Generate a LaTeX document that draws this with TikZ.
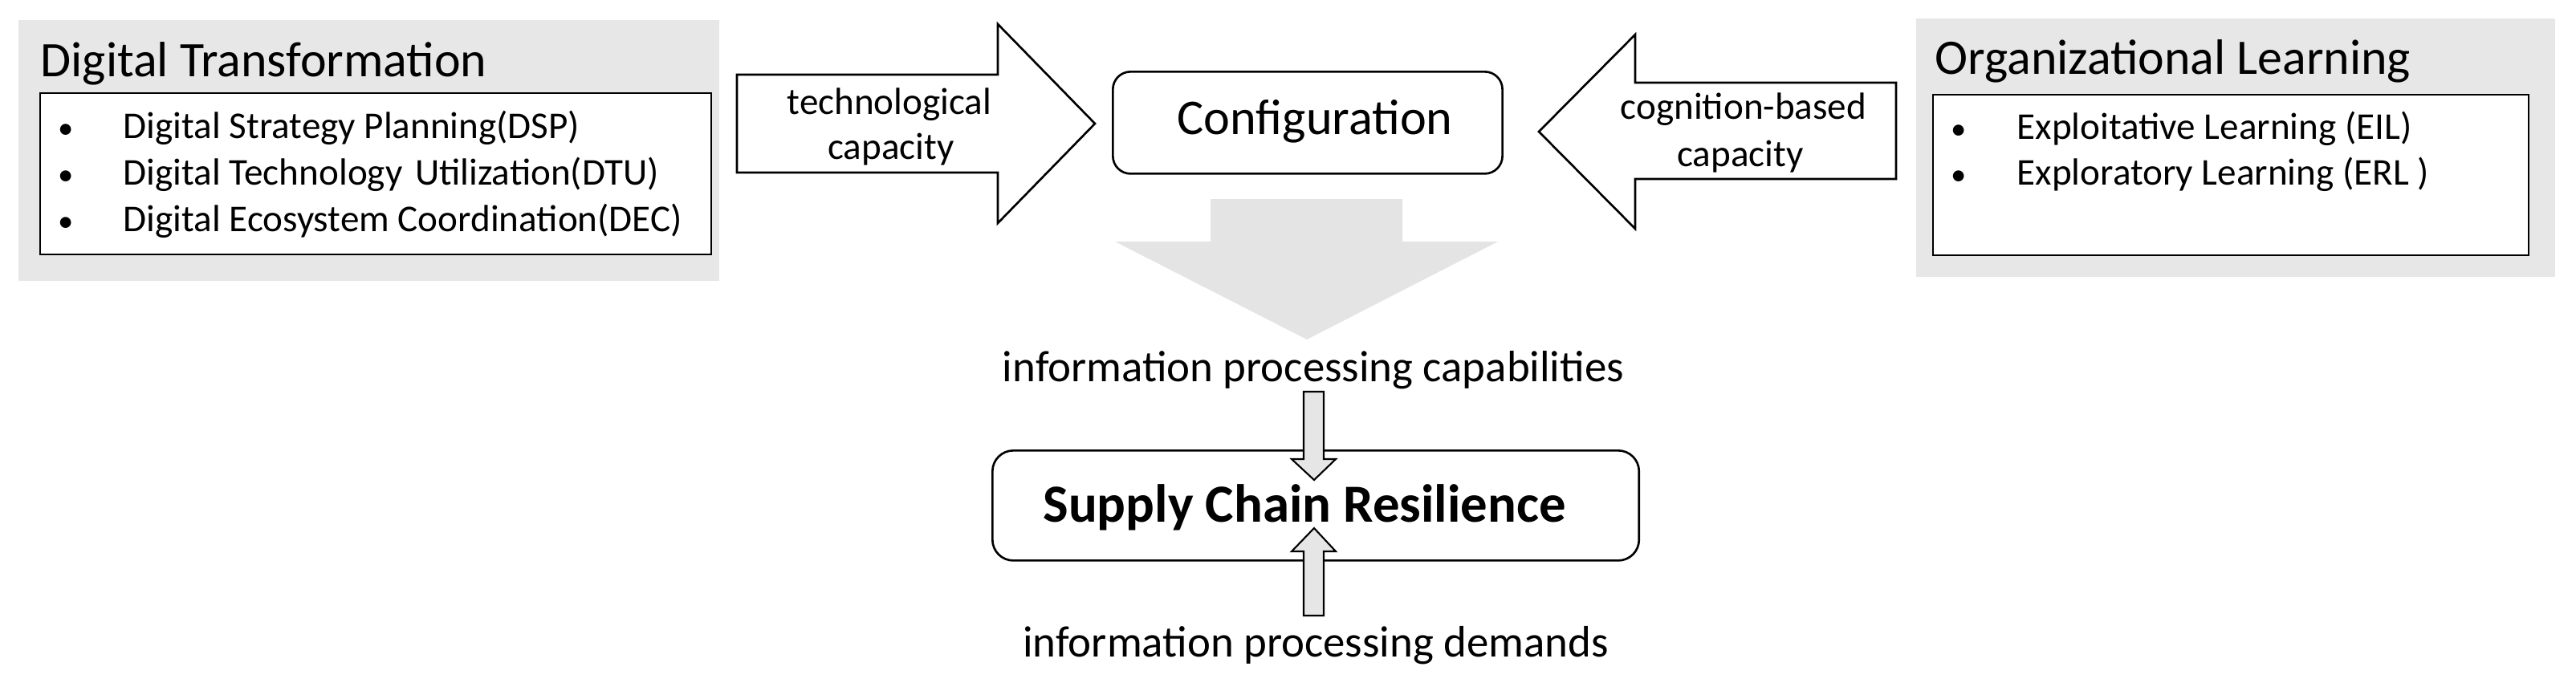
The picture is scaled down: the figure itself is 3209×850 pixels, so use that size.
\documentclass[tikz,border=0pt]{standalone}
\usepackage{fontspec}
\setmainfont{Carlito}
\definecolor{panelgray}{HTML}{E7E7E7}
\definecolor{arrowgray}{HTML}{E4E4E4}
\definecolor{smallgray}{HTML}{E6E6E6}
\tikzset{
  panel/.style={fill=panelgray, draw=none},
  listbox/.style={draw=black, fill=white, line width=0.75pt},
  blockarrow/.style={draw=black, fill=white, line width=0.75pt, line join=miter},
  bigarrow/.style={fill=arrowgray, draw=none},
  smallarrow/.style={draw=black, fill=smallgray, line width=0.6pt, line join=miter},
  roundbox/.style={draw=black, fill=white, line width=0.75pt, rounded corners=0.22cm},
  titletext/.style={font=\fontsize{17.6}{21}\selectfont, anchor=base west, inner sep=0pt},
  itemtext/.style={font=\fontsize{13.4}{16}\selectfont, anchor=base west, inner sep=0pt},
  bullettext/.style={font=\fontsize{11}{14}\selectfont, anchor=base, inner sep=0pt},
  arrowtext/.style={font=\fontsize{13.4}{16}\selectfont, anchor=base, inner sep=0pt},
  infotext/.style={font=\fontsize{15.6}{18}\selectfont, anchor=base, inner sep=0pt},
}
\begin{document}
\begin{tikzpicture}[x=0.01cm, y=-0.01cm]
\useasboundingbox (0,0) rectangle (3209,850);

% left panel
\path[panel] (23,25) rectangle (896,350);
\node[titletext] (dttitle) at (50,95) {Digital Transformation};
\path[listbox] (50,116) rectangle (886,317);
\node[bullettext] (dtb1) at (82,172) {•};
\node[bullettext] (dtb2) at (82,230) {•};
\node[bullettext] (dtb3) at (82,288) {•};
\node[itemtext] (dsp) at (153,172) {Digital Strategy Planning(DSP)};
\node[itemtext] (dtu) at (153,230) {Digital Technology\,\,Utilization(DTU)};
\node[itemtext] (dec) at (153,288) {Digital Ecosystem Coordination(DEC)};

% right panel
\path[panel] (2387,23) rectangle (3183,345);
\node[titletext] (oltitle) at (2410,92) {Organizational Learning};
\path[listbox] (2408,118) rectangle (3150,318);
\node[bullettext] (olb1) at (2440,173) {•};
\node[bullettext] (olb2) at (2440,230) {•};
\node[itemtext] (eil) at (2512,173) {Exploitative Learning (EIL)};
\node[itemtext] (erl) at (2512,230) {Exploratory Learning (ERL )};

% technological capacity arrow
\path[blockarrow] (918,93) -- (1243,93) -- (1243,30) -- (1364,154) -- (1243,278) -- (1243,215) -- (918,215) -- cycle;
\node[arrowtext] (tech1) at (1108,142) {technological};
\node[arrowtext] (tech2) at (1110,198) {capacity};

% cognition-based capacity arrow
\path[blockarrow] (2362,103) -- (2037,103) -- (2037,43) -- (1917,164) -- (2037,285) -- (2037,223) -- (2362,223) -- cycle;
\node[arrowtext] (cog1) at (2172,148) {cognition-based};
\node[arrowtext] (cog2) at (2168,207) {capacity};

% configuration
\node[roundbox, minimum width=4.85cm, minimum height=1.27cm, anchor=north west] (config) at (1385,88) {};
\node[font=\fontsize{17.7}{21}\selectfont, anchor=base, inner sep=0pt] (configtext) at (1638,167) {Configuration};

% big gray arrow
\path[bigarrow] (1508,248) -- (1747,248) -- (1747,301) -- (1866,301) -- (1628,423) -- (1389,301) -- (1508,301) -- cycle;

\node[infotext] (ipc) at (1636,475) {information processing capabilities};

% supply chain resilience
\node[roundbox, minimum width=8.05cm, minimum height=1.37cm, anchor=north west, rounded corners=0.26cm] (scr) at (1235,560) {};
\node[font=\bfseries\fontsize{19}{22}\selectfont, anchor=base, inner sep=0pt] (scrtext) at (1625,650) {Supply Chain Resilience};

\path[smallarrow] (1624,488) -- (1649,488) -- (1649,572) -- (1664,572) -- (1637,598) -- (1609,572) -- (1624,572) -- cycle;
\path[smallarrow] (1624,767) -- (1649,767) -- (1649,687) -- (1664,687) -- (1637,658) -- (1609,687) -- (1624,687) -- cycle;

\node[infotext] (ipd) at (1639,818) {information processing demands};
\end{tikzpicture}
\end{document}
